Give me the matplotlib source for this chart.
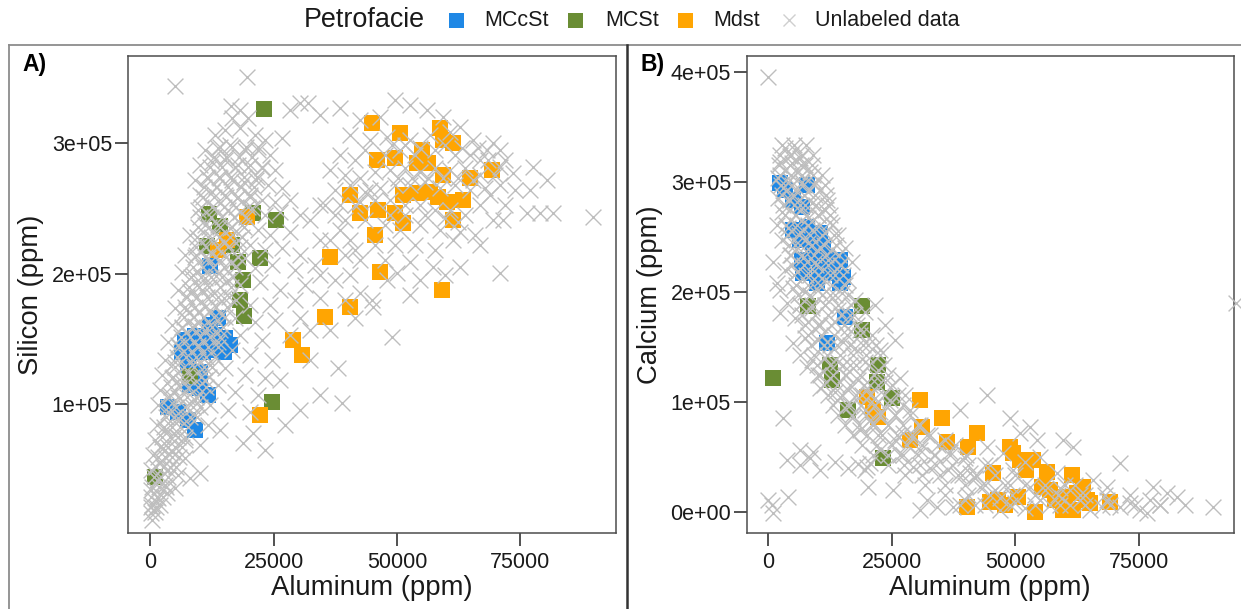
import matplotlib
matplotlib.use("Agg")
import matplotlib.pyplot as plt
from matplotlib.lines import Line2D
import numpy as np

plt.rcParams['font.family'] = ['Liberation Sans', 'DejaVu Sans']

# ---------------- DATA (thousand ppm) ----------------
# Panel A: Aluminum vs Silicon
a_mccst_al = [12.1, 7.0, 9.0, 11.1, 13.1, 15.1, 6.4, 8.4, 10.6, 12.7, 14.9, 16.1,
              7.6, 10.0, 8.0, 10.0, 11.7, 3.5, 5.6, 7.6, 9.0, 13.7, 12.1]
a_mccst_si = [206.1, 149.4, 152.5, 151.0, 153.3, 151.0, 140.2, 141.8, 140.2, 141.8, 140.2, 145.6,
              130.3, 124.9, 115.0, 112.7, 107.3, 98.1, 94.2, 88.1, 80.4, 166.3, 160.9]

a_mcst_al = [23.0, 11.9, 14.1, 20.8, 25.5, 11.5, 22.2, 16.5, 17.7, 18.8, 18.2, 19.0, 8.0, 24.6, 0.9]
a_mcst_si = [326.4, 246.0, 236.8, 246.7, 241.4, 221.5, 212.3, 222.2, 209.2, 195.4, 180.1, 167.9,
             122.0, 102.1, 44.6]

a_mdst_al = [44.9, 50.6, 58.7, 59.3, 45.9, 49.6, 55.1, 54.0, 56.3, 59.3, 64.8, 69.3, 61.3,
             40.5, 42.5, 46.1, 49.6, 51.2, 51.2, 54.0, 56.7, 58.3, 60.1, 63.4, 61.3, 45.5,
             36.4, 46.5, 59.1, 40.5, 35.4, 28.9, 30.7, 22.2, 19.6, 15.5, 13.7]
a_mdst_si = [315.7, 308.0, 311.9, 302.7, 287.4, 288.9, 295.0, 285.1, 285.1, 275.9, 273.6, 279.7, 300.4,
             260.5, 246.7, 249.0, 246.7, 239.1, 260.5, 262.1, 262.8, 259.0, 255.2, 256.7, 241.4, 229.9,
             213.0, 201.5, 187.7, 174.7, 167.0, 149.4, 137.9, 91.9, 243.7, 226.1, 218.4]

a_unl_al = [
    # top outliers
    5.0, 19.6, 16.3, 18.2, 19.8, 16.5, 30.3, 31.9, 28.3, 26.7,
    # upper band
    13.1, 15.1, 18.2, 21.2, 23.2, 11.1, 13.7, 16.1, 19.2, 21.8, 24.2, 10.0, 12.5, 15.1, 17.7, 20.2,
    22.6, 25.2, 9.0, 11.7, 14.1, 16.5, 19.0, 21.4, 23.8, 26.7, 10.0, 12.5, 15.1, 17.5, 20.2, 22.6,
    25.2, 28.3, 9.6, 13.1, 15.7, 18.2, 20.6, 23.2, 26.3, 30.3, 11.1, 13.7, 16.1, 18.6, 21.8, 24.2, 28.3,
    # middle band
    8.0, 10.0, 12.5, 15.1, 17.7, 20.2, 23.2, 26.7, 30.3, 7.0, 9.2, 11.7, 14.1, 16.5, 19.2, 21.2, 24.6,
    29.3, 33.4, 6.4, 8.6, 11.1, 13.3, 15.7, 18.2, 22.2, 26.3, 31.3, 5.6, 8.0, 10.4, 12.5, 14.9, 17.3,
    20.2, 24.2, 29.3, 34.4, 5.0, 7.2, 9.6, 12.1, 14.5, 17.1, 21.2, 25.2, 30.3, 4.4, 6.4, 9.0, 11.5,
    14.1, 18.2, 22.6, 28.3, 32.3,
    # lower band
    3.5, 5.6, 9.6, 13.7, 16.5, 20.2, 24.6, 2.9, 5.0, 9.0, 12.1, 15.1, 19.2, 23.2, 26.3, 2.3, 4.4, 6.4,
    11.1, 13.7, 17.1, 21.8, 1.9, 4.0, 6.0, 9.0, 12.1, 15.7, 20.2, 1.5, 3.5, 5.6, 9.0, 11.7, 14.1, 18.8,
    20.8, 1.3, 2.9, 5.0, 7.0, 10.0, 0.9, 2.5, 4.4, 7.0, 10.0, 8.0, 0.5, 1.9, 3.5, 5.6, 0.2, 1.3, 2.9,
    5.0, 3.3, 0.2, 1.5, 0.3, 0.2, 0.9, 1.9, 0.3,
    # sparse, right of the band
    38.0, 38.8, 49.0, 30.3, 34.4, 27.3, 23.2, 32.3, 36.4, 41.5, 39.4, 37.4, 34.4, 32.3, 35.4, 38.4,
    41.5, 40.5, 44.9,
    # right cluster
    34.4, 38.4, 42.5, 46.5, 49.6, 52.6, 56.1, 59.3, 62.8, 40.5, 44.5, 48.0, 52.6, 56.7, 60.7, 65.4,
    68.3, 69.5, 70.9, 38.4, 41.5, 43.5, 47.6, 50.6, 53.6, 57.7, 61.7, 64.8, 66.8, 71.9, 36.4, 39.4,
    42.5, 45.5, 48.6, 51.6, 54.7, 57.7, 60.7, 63.8, 66.8, 70.9, 73.5, 77.6, 80.4, 37.4, 40.5, 43.5,
    46.5, 49.6, 52.6, 55.7, 58.7, 61.7, 64.8, 67.8, 77.0, 34.4, 38.4, 42.5, 45.5, 48.6, 51.6, 54.7,
    57.7, 60.7, 63.8, 66.8, 69.5, 71.5, 76.4, 79.0, 81.6, 89.7, 39.4, 43.5, 47.6, 50.6, 54.7, 58.7,
    62.8, 65.8, 40.5, 45.5, 49.6, 53.6, 57.7, 61.3, 66.8, 42.5, 47.6, 52.6, 57.3, 62.8, 50.0, 48.0,
    54.7, 59.7, 70.9, 42.5, 45.1, 52.6,
    49.0, 51.6, 54.7, 59.7, 63.2, 66.4, 50.2, 53.0, 56.3, 59.3, 62.4, 65.4, 48.6, 51.6, 55.7, 59.7,
    62.4, 44.5, 41.5, 37.4, 36.4, 39.4, 34.4, 70.9, 73.9, 71.9, 68.9, 68.4, 69.9,
    # dense core of the diagonal band
    14.1, 16.5, 19.4, 21.8, 12.9, 15.3, 17.9, 20.6, 12.1, 14.5, 17.1, 19.8, 22.6,
    11.5, 13.9, 16.3, 19.0, 21.6, 10.8, 13.3, 15.7, 18.4, 21.0, 10.6, 12.9, 15.3, 17.7, 20.2,
    10.2, 12.5, 14.9, 17.3, 19.8, 10.0, 12.3, 14.5, 16.9, 19.4, 9.6, 11.9, 14.1, 16.5, 19.0,
    9.4, 11.7, 13.9, 16.1, 18.6, 9.2, 11.3, 13.5, 15.7, 18.2, 9.0, 11.1, 13.1, 15.3, 17.7,
    8.6, 10.6, 12.7, 14.9, 17.1, 8.2, 10.2, 12.3, 14.5, 16.7, 7.8, 9.8, 11.9, 14.1, 16.3,
    7.4, 9.4, 11.5, 13.7, 15.9, 7.0, 9.0, 11.1, 13.3, 15.5, 6.8, 8.8, 10.8, 12.9, 15.1,
    6.4, 8.4, 10.4, 12.5, 14.7, 6.2, 8.0, 10.0, 12.1, 14.1, 5.8, 7.6, 9.6, 11.7, 13.7,
    5.4, 7.2, 9.2, 11.3, 13.1, 5.0, 6.8, 8.8, 10.8, 12.5, 4.6, 6.4, 8.4, 10.2, 11.9,
    4.2, 6.0, 7.8, 9.6, 11.3, 3.8, 5.6, 7.4, 9.2, 10.6, 3.5, 5.2, 7.0, 8.6, 10.0,
    3.1, 4.8, 6.4, 8.0, 9.4, 2.7, 4.4, 6.0, 7.6, 2.3, 4.0, 5.6, 7.0, 1.9, 3.5, 5.0, 6.4,
    1.5, 2.9, 4.4, 5.8, 1.1, 2.5, 4.0, 5.2, 0.7, 2.1, 3.5, 0.3, 1.7, 3.1, 0.1, 1.3, 2.5, 0.1, 1.1,
]
a_unl_si = [
    344.1, 351.0, 328.7, 325.7, 319.5, 319.5, 331.0, 331.0, 325.7, 304.3,
    306.5, 310.3, 311.9, 306.5, 302.7, 295.0, 296.6, 298.9, 295.0, 295.0, 291.2, 283.5, 285.8, 287.4,
    283.5, 283.5, 281.2, 279.7, 272.0, 273.6, 273.6, 272.0, 270.5, 272.0, 268.2, 265.9, 260.5, 262.8,
    260.5, 258.2, 260.5, 256.7, 255.2, 256.7, 249.0, 250.6, 249.0, 247.5, 250.6, 245.2, 247.5, 245.2,
    237.5, 237.5, 235.2, 237.5, 233.7, 229.9, 232.2,
    229.9, 226.1, 227.6, 224.5, 226.1, 222.2, 218.4, 219.9, 214.6, 214.6, 214.6, 212.3, 210.7, 209.2,
    212.3, 204.6, 206.9, 203.1, 206.9, 201.5, 199.2, 197.0, 198.5, 195.4, 191.6, 193.9, 187.7, 191.6,
    187.7, 186.2, 187.7, 183.9, 181.6, 180.1, 176.2, 176.2, 180.1, 181.6, 173.9, 172.4, 170.9, 172.4,
    168.6, 166.3, 163.2, 164.7, 166.3, 160.9, 158.6, 160.1, 158.6, 157.1, 153.3, 149.4, 153.3, 157.1,
    147.9, 145.6, 145.6, 147.9, 141.8, 138.0, 134.1, 134.1, 132.6, 132.6, 130.3, 128.0, 122.6, 120.3,
    118.8, 122.6, 120.3, 117.2, 118.8, 114.9, 109.6, 107.3, 111.1, 107.3, 105.0, 103.4, 99.6, 95.7,
    94.2, 99.6, 94.2, 89.6, 91.9, 84.2, 80.4, 70.5, 78.1, 84.2, 80.4, 76.6, 72.8, 68.9, 72.8, 66.6,
    63.6, 59.0, 47.5, 43.7, 61.3, 55.9, 49.8, 46.0, 49.8, 42.1, 38.3, 36.0, 32.2, 34.5, 28.3, 23.0,
    16.8, 17.6, 23.0, 11.5,
    128.0, 101.0, 151.7, 95.7, 107.3, 84.2, 65.1, 134.1, 157.1, 166.3, 180.1, 195.4, 226.1, 241.4,
    252.9, 233.7, 218.4, 199.2, 180.1,
    321.8, 327.2, 318.0, 320.3, 333.3, 329.5, 325.7, 320.3, 312.6, 306.5, 302.7, 305.0, 302.7, 306.5,
    308.8, 302.7, 295.0, 300.4, 295.0, 291.2, 287.4, 295.0, 291.2, 295.0, 291.2, 295.0, 291.2, 291.2,
    287.4, 287.4, 279.7, 275.9, 273.6, 278.2, 279.7, 281.2, 278.2, 281.2, 279.7, 281.2, 275.9, 282.0,
    277.4, 282.0, 272.0, 264.4, 268.2, 262.8, 265.9, 268.2, 268.2, 270.5, 265.9, 268.2, 264.4, 265.9,
    264.4, 252.9, 252.9, 255.2, 256.7, 256.7, 252.9, 252.9, 249.0, 249.0, 245.2, 252.9, 241.4, 241.4,
    246.7, 246.7, 246.7, 243.7, 241.4, 241.4, 237.5, 233.7, 237.5, 233.7, 232.2, 229.9, 226.1, 222.2,
    222.2, 222.2, 218.4, 226.1, 222.2, 210.7, 210.7, 209.2, 205.4, 205.4, 200.8, 195.4, 195.4, 199.2,
    200.8, 185.4, 174.7, 183.9,
    298.9, 298.9, 296.6, 298.9, 296.6, 296.6, 273.6, 273.6, 273.6, 273.6, 273.6, 272.0, 245.2, 245.2,
    245.2, 242.9, 239.8, 264.4, 252.9, 245.2, 226.1, 214.6, 199.2, 268.2, 264.4, 252.9, 260.5, 287.4,
    275.9,
    297.3, 297.3, 297.3, 297.3, 289.7, 289.7, 289.7, 289.7, 282.0, 282.0, 282.0, 282.0, 282.0,
    274.3, 274.3, 274.3, 274.3, 274.3, 266.7, 266.7, 266.7, 266.7, 266.7, 259.0, 259.0, 259.0, 259.0, 259.0,
    251.3, 251.3, 251.3, 251.3, 251.3, 243.7, 243.7, 243.7, 243.7, 243.7, 236.0, 236.0, 236.0, 236.0, 236.0,
    228.4, 228.4, 228.4, 228.4, 228.4, 220.7, 220.7, 220.7, 220.7, 220.7, 213.0, 213.0, 213.0, 213.0, 213.0,
    205.4, 205.4, 205.4, 205.4, 205.4, 197.7, 197.7, 197.7, 197.7, 197.7, 190.0, 190.0, 190.0, 190.0, 190.0,
    182.4, 182.4, 182.4, 182.4, 182.4, 174.7, 174.7, 174.7, 174.7, 174.7, 167.0, 167.0, 167.0, 167.0, 167.0,
    159.4, 159.4, 159.4, 159.4, 159.4, 151.7, 151.7, 151.7, 151.7, 151.7, 144.1, 144.1, 144.1, 144.1, 144.1,
    136.4, 136.4, 136.4, 136.4, 136.4, 128.7, 128.7, 128.7, 128.7, 128.7, 121.1, 121.1, 121.1, 121.1, 121.1,
    113.4, 113.4, 113.4, 113.4, 113.4, 105.7, 105.7, 105.7, 105.7, 105.7, 98.1, 98.1, 98.1, 98.1, 98.1,
    90.4, 90.4, 90.4, 90.4, 90.4, 82.7, 82.7, 82.7, 82.7, 75.1, 75.1, 75.1, 75.1, 67.4, 67.4, 67.4, 67.4,
    59.7, 59.7, 59.7, 59.7, 52.1, 52.1, 52.1, 52.1, 44.4, 44.4, 44.4, 36.7, 36.7, 36.7, 29.1, 29.1, 29.1,
    21.4, 21.4,
]

# Panel B: Aluminum vs Calcium
b_mccst_al = [3.4, 7.9, 5.1, 6.9, 5.1, 7.9, 10.5, 6.5, 9.1, 11.1, 6.9, 9.1, 11.9, 14.6, 7.1, 10.5,
              13.1, 15.2, 14.6, 9.9, 11.9, 15.6, 2.4]
b_mccst_ca = [293.0, 297.5, 283.9, 277.5, 256.6, 259.3, 253.9, 247.5, 244.8, 241.2, 229.3, 232.1,
              232.1, 229.3, 217.5, 217.5, 217.5, 213.9, 208.4, 208.4, 153.8, 177.5, 299.3]

b_mcst_al = [8.1, 19.0, 1.0, 12.5, 13.0, 22.2, 22.0, 25.1, 16.2, 23.2, 19.0]
b_mcst_ca = [187.5, 187.5, 122.2, 134.0, 120.3, 134.0, 118.5, 103.9, 93.0, 49.4, 165.7]

b_mdst_al = [20.0, 21.2, 22.2, 28.7, 30.7, 31.1, 35.2, 36.2, 42.2, 40.4, 48.9, 49.5, 50.9, 53.6,
             56.4, 61.4, 63.7, 45.5, 40.2, 44.9, 46.5, 50.5, 54.0, 55.4, 58.0, 59.6, 61.6, 62.4,
             64.5, 65.1, 69.1, 57.0, 52.1, 60.0, 47.9]
b_mdst_ca = [104.8, 93.0, 86.6, 65.7, 102.1, 77.5, 85.7, 63.9, 72.1, 59.3, 59.3, 53.8, 47.6, 47.6,
             36.6, 33.9, 23.0, 35.7, 4.8, 9.4, 11.2, 13.9, 0.3, 23.0, 11.2, 2.1, 2.1, 17.5,
             11.2, 8.5, 9.4, 20.3, 38.5, 13.9, 6.6]

b_unl_al = [
    0.0,
    # top of band
    3.4, 5.5, 4.4, 6.5, 2.4, 4.9, 7.5, 3.4, 5.9, 8.5, 2.0, 4.4, 6.9, 9.5, 3.0, 5.5, 8.1, 10.5, 11.9,
    2.0, 4.4, 6.5, 8.9, 11.5,
    # middle of band
    2.8, 5.5, 8.1, 10.1, 12.5, 1.8, 4.0, 6.5, 8.9, 11.5, 14.1, 2.8, 5.5, 8.1, 10.5, 12.9, 15.6, 4.4,
    7.1, 9.5, 12.1, 14.6, 17.0, 1.0, 1.8, 3.4, 5.9, 8.5, 10.9, 13.5, 16.2, 2.4, 5.1, 7.5, 10.1, 12.5,
    15.0, 17.6, 3.8, 6.5, 8.9, 11.5, 14.1, 16.6, 19.6, 2.4, 5.5, 8.1, 10.5, 13.5, 16.2, 18.6, 23.6,
    25.7, 21.6,
    # lower-middle
    5.1, 7.5, 10.1, 12.5, 15.2, 17.6, 20.2, 22.6, 6.5, 8.9, 11.5, 14.1, 16.6, 19.6, 22.2, 7.9, 10.1,
    12.5, 15.6, 18.2, 20.6, 23.6, 26.7, 10.5, 13.5, 16.2, 19.0, 21.6, 24.7, 27.7, 13.9, 16.6, 19.6,
    22.6, 25.7, 28.7, 17.2, 20.6, 21.2, 24.3, 27.3, 30.7, 3.0,
    # lower band
    18.6, 22.2, 25.7, 29.1, 32.7, 35.8, 30.7, 33.8, 36.8, 39.8, 22.6, 26.7, 29.3, 32.7, 36.4, 39.2,
    41.8, 40.8, 38.8, 44.3, 48.9, 53.0, 50.9, 54.4, 59.6, 61.6, 44.3, 47.5, 55.0, 49.5, 58.4, 44.9,
    51.9, 65.7, 71.1,
    # bottom band
    42.8, 45.9, 48.9, 53.0, 56.0, 59.0, 62.0, 68.5, 77.8, 32.1, 34.2, 37.4, 39.8, 41.8, 46.9, 49.9,
    51.9, 55.0, 57.0, 59.4, 61.0, 63.1, 65.1, 67.5, 68.5, 71.1, 73.2, 75.2, 76.6, 77.2, 80.6, 82.7,
    79.2, 84.3, 89.9, 30.7, 46.9, 64.1,
    # low row on the left
    3.8, 6.5, 8.5, 10.5, 13.5, 16.2, 18.2, 20.0, 20.6, 19.6, 20.2, 25.3, 6.5, 9.1,
    # lower-left outliers
    0.0, 4.0, 1.0, 0.8,
    # dense core of the band
    2.8, 5.3, 7.7, 2.4, 4.6, 6.9, 9.1, 2.2, 4.4, 6.7, 8.9, 2.4, 4.6, 6.9, 9.1, 10.9,
    2.6, 4.9, 7.1, 9.3, 11.5, 2.8, 5.1, 7.3, 9.5, 11.7, 3.0, 5.3, 7.5, 9.7, 12.1,
    3.4, 5.7, 7.9, 10.1, 12.5, 3.6, 5.9, 8.1, 10.5, 12.9, 4.0, 6.3, 8.5, 10.9, 13.3,
    4.2, 6.5, 8.9, 11.3, 13.7, 4.6, 6.9, 9.3, 11.7, 14.3, 4.9, 7.3, 9.7, 12.1, 14.8,
    5.3, 7.7, 10.1, 12.5, 15.2, 5.7, 8.1, 10.5, 12.9, 15.6, 6.1, 8.5, 10.9, 13.5, 16.2,
    6.5, 8.9, 11.5, 14.1, 16.8, 6.9, 9.5, 12.1, 14.8, 17.4, 7.5, 10.1, 12.7, 15.4, 18.0,
    8.1, 10.7, 13.3, 16.0, 18.6, 21.0, 8.7, 11.3, 13.9, 16.6, 19.2, 21.8,
    9.3, 11.9, 14.6, 17.2, 19.8, 22.6, 9.9, 12.5, 15.2, 17.8, 20.4, 23.4,
    10.5, 13.1, 15.8, 18.6, 21.4, 24.3, 11.3, 13.9, 16.6, 19.4, 22.2, 25.1,
    12.1, 15.0, 17.8, 20.6, 23.4, 26.3, 13.1, 16.0, 18.8, 21.6, 24.5, 27.3,
    14.1, 17.0, 19.8, 22.6, 25.7, 28.7, 15.6, 18.4, 21.2, 24.3, 27.3, 30.3,
    17.2, 20.0, 23.0, 26.1, 29.1, 32.1, 19.0, 22.0, 25.1, 28.1, 31.1, 34.4, 37.8,
    21.2, 24.3, 27.3, 30.3, 33.5, 36.8, 40.0, 24.3, 27.5, 30.7, 34.0, 37.2, 40.4, 43.9,
    27.7, 31.1, 34.8, 38.4, 42.0, 45.9, 49.9, 31.7, 35.8, 39.8, 43.9, 47.9, 51.9, 56.0, 60.0,
    35.8, 40.4, 44.9, 49.3, 54.0, 58.6, 63.1, 68.1, 73.2, 38.8, 43.9, 48.9, 54.0, 59.0, 64.1, 69.1,
    74.2, 79.2,
]
b_unl_ca = [
    395.7,
    331.2, 329.3, 323.9, 322.1, 318.4, 317.5, 315.7, 311.1, 309.3, 309.3, 303.9, 302.1, 300.2, 300.2,
    294.8, 293.0, 291.2, 293.0, 283.9, 285.7, 283.9, 279.3, 281.2, 274.8,
    273.0, 270.2, 267.5, 270.2, 263.9, 261.1, 258.4, 254.8, 256.6, 253.9, 252.0, 247.5, 243.0, 244.8,
    241.2, 238.4, 240.2, 233.9, 231.2, 227.5, 229.3, 224.8, 227.5, 227.5, 208.4, 220.2, 218.4, 215.7,
    213.0, 215.7, 211.2, 202.0, 203.9, 200.2, 202.0, 197.5, 199.3, 193.0, 190.3, 188.4, 185.7, 188.4,
    183.9, 179.3, 182.1, 181.2, 176.6, 173.0, 170.2, 173.0, 167.5, 165.7, 170.2, 156.6, 188.4,
    153.9, 158.4, 156.6, 152.0, 154.8, 149.3, 152.0, 147.5, 143.0, 138.4, 140.2, 136.6, 133.9, 136.6,
    129.3, 132.1, 124.8, 122.1, 124.8, 120.3, 115.7, 118.5, 122.1, 113.0, 109.3, 111.2, 106.6, 103.9,
    102.1, 106.6, 102.1, 97.5, 93.0, 91.2, 88.4, 93.0, 86.6, 84.0, 81.2, 79.3, 72.1, 79.3, 85.7,
    74.8, 70.2, 65.7, 67.5, 70.2, 65.7, 56.6, 52.1, 54.8, 49.4, 56.6, 52.1, 41.2, 40.3, 38.5, 33.9,
    31.2, 35.7, 93.0, 106.6, 85.7, 77.5, 72.1, 65.7, 65.7, 59.4, 59.4, 53.9, 50.3, 38.5, 35.7, 43.0,
    45.8, 29.4, 44.8,
    23.0, 20.3, 24.8, 23.0, 20.3, 22.1, 24.8, 23.0, 23.0, 11.2, 4.8, 4.8, 11.2, 6.6, 13.0, 8.5,
    3.9, 11.2, 6.6, 13.0, 6.6, 11.2, 2.1, 4.8, 11.2, 4.8, 8.5, 2.1, -0.6, 11.2, 17.5, 13.9,
    6.6, 6.6, 4.8, 2.1, 2.1, 15.7,
    47.6, 43.0, 49.4, 38.5, 45.8, 40.3, 43.9, 41.2, 44.8, 38.5, 23.0, 20.3, 56.6, 54.8,
    11.2, 13.9, -0.6, 6.6,
    333.9, 333.9, 333.9, 324.8, 324.8, 324.8, 324.8, 315.7, 315.7, 315.7, 315.7,
    306.6, 306.6, 306.6, 306.6, 306.6, 297.5, 297.5, 297.5, 297.5, 297.5, 288.4, 288.4, 288.4, 288.4, 288.4,
    279.3, 279.3, 279.3, 279.3, 279.3, 270.2, 270.2, 270.2, 270.2, 270.2, 261.1, 261.1, 261.1, 261.1, 261.1,
    252.0, 252.0, 252.0, 252.0, 252.0, 243.0, 243.0, 243.0, 243.0, 243.0, 233.9, 233.9, 233.9, 233.9, 233.9,
    224.8, 224.8, 224.8, 224.8, 224.8, 215.7, 215.7, 215.7, 215.7, 215.7, 206.6, 206.6, 206.6, 206.6, 206.6,
    197.5, 197.5, 197.5, 197.5, 197.5, 188.4, 188.4, 188.4, 188.4, 188.4, 179.3, 179.3, 179.3, 179.3, 179.3,
    170.2, 170.2, 170.2, 170.2, 170.2, 161.1, 161.1, 161.1, 161.1, 161.1, 161.1,
    152.0, 152.0, 152.0, 152.0, 152.0, 152.0, 143.0, 143.0, 143.0, 143.0, 143.0, 143.0,
    133.9, 133.9, 133.9, 133.9, 133.9, 133.9, 124.8, 124.8, 124.8, 124.8, 124.8, 124.8,
    115.7, 115.7, 115.7, 115.7, 115.7, 115.7, 106.6, 106.6, 106.6, 106.6, 106.6, 106.6,
    97.5, 97.5, 97.5, 97.5, 97.5, 97.5, 88.4, 88.4, 88.4, 88.4, 88.4, 88.4,
    79.3, 79.3, 79.3, 79.3, 79.3, 79.3, 70.2, 70.2, 70.2, 70.2, 70.2, 70.2,
    61.2, 61.2, 61.2, 61.2, 61.2, 61.2, 61.2, 52.1, 52.1, 52.1, 52.1, 52.1, 52.1, 52.1,
    43.0, 43.0, 43.0, 43.0, 43.0, 43.0, 43.0, 33.9, 33.9, 33.9, 33.9, 33.9, 33.9, 33.9,
    24.8, 24.8, 24.8, 24.8, 24.8, 24.8, 24.8, 24.8,
    15.7, 15.7, 15.7, 15.7, 15.7, 15.7, 15.7, 15.7, 15.7, 6.6, 6.6, 6.6, 6.6, 6.6, 6.6, 6.6, 6.6, 6.6,
]
# point at the right edge of panel B (partly outside the panel)
b_edge_al = [94.6]
b_edge_ca = [190.3]

categories = ["MCcSt", "MCSt", "Mdst", "Unlabeled data"]
colors = {"MCcSt": "#1F88E5", "MCSt": "#6A8D34", "Mdst": "#FFA502", "Unlabeled data": "#BEBEBE"}

K = 1000.0
SQ = 118   # square marker area (pt^2)
XS = 130   # cross marker area

fig = plt.figure(figsize=(12.41, 6.09), dpi=100)
W, H = 1241.0, 609.0

axA = fig.add_axes([128 / W, 1 - 533 / H, (616 - 128) / W, (533 - 56) / H])
axB = fig.add_axes([747 / W, 1 - 533 / H, (1234 - 747) / W, (533 - 56) / H])

def draw(ax, groups, unl):
    for name, (xs, ys) in groups.items():
        ax.scatter(np.array(xs) * K, np.array(ys) * K, s=SQ, marker='s', c=colors[name],
                   linewidths=0, zorder=2)
    ax.scatter(np.array(unl[0]) * K, np.array(unl[1]) * K, s=XS, marker='x',
               c=colors["Unlabeled data"], linewidths=1.0, zorder=3)

draw(axA, {"MCcSt": (a_mccst_al, a_mccst_si), "MCSt": (a_mcst_al, a_mcst_si),
           "Mdst": (a_mdst_al, a_mdst_si)}, (a_unl_al, a_unl_si))
draw(axB, {"MCcSt": (b_mccst_al, b_mccst_ca), "MCSt": (b_mcst_al, b_mcst_ca),
           "Mdst": (b_mdst_al, b_mdst_ca)}, (b_unl_al, b_unl_ca))
axB.scatter(np.array(b_edge_al) * K, np.array(b_edge_ca) * K, s=XS, marker='x',
            c=colors["Unlabeled data"], linewidths=1.0, zorder=3, clip_on=False)

axA.set_xlim(-4560, 94400)
axA.set_ylim(1500, 367000)
axB.set_xlim(-4240, 94200)
axB.set_ylim(-18800, 414800)

xt = [0, 25000, 50000, 75000]
for ax, yt in ((axA, [1e5, 2e5, 3e5]), (axB, [0, 1e5, 2e5, 3e5, 4e5])):
    ax.set_xticks(xt)
    ax.set_xticklabels([str(v) for v in xt])
    ax.set_yticks(yt)
    ax.set_yticklabels([format(v, '.0e') for v in yt])
    ax.tick_params(axis='both', length=9.5, width=1.2, color='#333333', labelsize=15.5,
                   labelcolor='#1a1a1a')
    ax.tick_params(axis='x', pad=4)
    ax.tick_params(axis='y', pad=2)
    for sp in ax.spines.values():
        sp.set_color('#4d4d4d')
        sp.set_linewidth(1.1)

# axis titles
fig.text(372 / W, 1 - 595 / H, "Aluminum (ppm)", ha='center', va='baseline', fontsize=19.8,
         color='#1a1a1a')
fig.text(990 / W, 1 - 595 / H, "Aluminum (ppm)", ha='center', va='baseline', fontsize=19.8,
         color='#1a1a1a')
fig.text(31 / W, 1 - 294.5 / H, "Silicon (ppm)", ha='center', va='center', rotation=90,
         fontsize=19.8, color='#1a1a1a')
fig.text(650 / W, 1 - 294.5 / H, "Calcium (ppm)", ha='center', va='center', rotation=90,
         fontsize=19.8, color='#1a1a1a')

# panel tags
fig.text(22 / W, 1 - 64 / H, "A)", ha='left', va='center', fontsize=16.5, fontweight='bold')
fig.text(641 / W, 1 - 64 / H, "B)", ha='left', va='center', fontsize=16.5, fontweight='bold')

# panel frames
fig.add_artist(Line2D([9 / W, 1.0], [1 - 44.5 / H] * 2, transform=fig.transFigure,
                      color='#8c8c8c', lw=1.3))
fig.add_artist(Line2D([9 / W] * 2, [0, 1 - 44.5 / H], transform=fig.transFigure,
                      color='#8c8c8c', lw=1.3))
fig.add_artist(Line2D([627 / W] * 2, [0, 1 - 44.5 / H], transform=fig.transFigure,
                      color='#333333', lw=1.8))

# legend (ggplot-style horizontal, title on the left)
ly = 1 - 20 / H
fig.text(304 / W, ly, "Petrofacie", ha='left', va='center', fontsize=19.4, color='#1a1a1a')
keys = [("MCcSt", 455.5, 484), ("MCSt", 575, 605), ("Mdst", 684.5, 713), ("Unlabeled data", 789, 815)]
for name, kx, tx in keys:
    if name == "Unlabeled data":
        fig.add_artist(Line2D([kx / W], [ly], transform=fig.transFigure, marker='x', ms=8.5,
                              mew=1.0, color='#cfcfcf', ls='none'))
    else:
        fig.add_artist(Line2D([kx / W], [ly], transform=fig.transFigure, marker='s', ms=10.8,
                              mew=0, color=colors[name], ls='none'))
    fig.text(tx / W, ly, name, ha='left', va='center', fontsize=15.5, color='#1a1a1a')

fig.savefig("out.png", dpi=100)
